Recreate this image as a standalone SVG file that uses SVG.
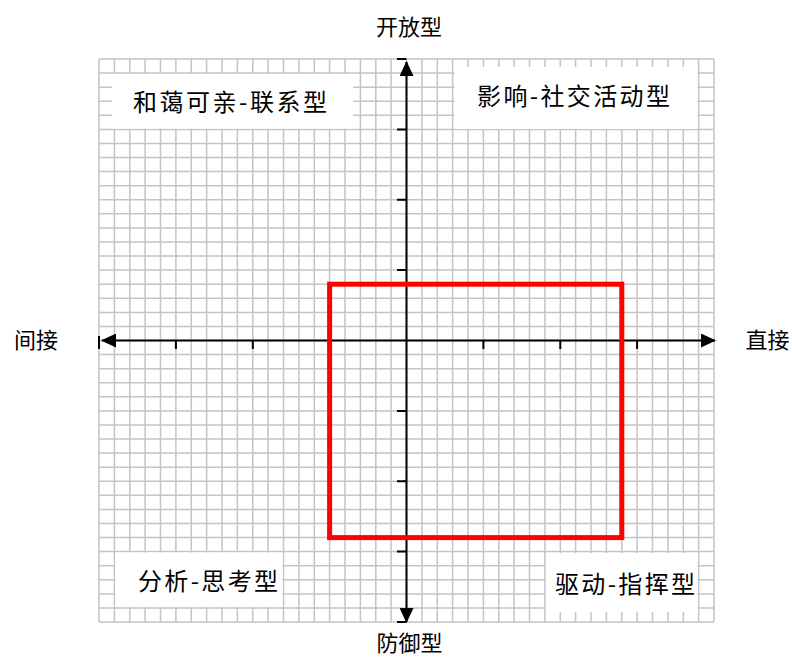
<svg xmlns="http://www.w3.org/2000/svg" width="792" height="664" viewBox="0 0 792 664">
<defs>
<style>
.grid{stroke:#c4c4c4;stroke-width:1.5;fill:none}
.axis{stroke:#000;stroke-width:2;fill:none}
.tick{stroke:#000;stroke-width:2;fill:none}
.box{fill:#fff;stroke:none}
.lbl{font-family:"Noto Sans CJK SC","Noto Sans",sans-serif;font-size:24px;fill:#000;text-anchor:middle}
.ax{font-family:"Noto Sans CJK SC","Noto Sans",sans-serif;font-size:22px;fill:#000;text-anchor:middle}
</style>
<marker id="arr" viewBox="0 0 15 14" refX="14" refY="7" markerWidth="15" markerHeight="14" markerUnits="userSpaceOnUse" orient="auto-start-reverse">
<path d="M0,0 L15,7 L0,14 Z" fill="#000"/>
</marker>
</defs>
<rect width="792" height="664" fill="#fff"/>
<g id="grid">
<path class="grid" d="M99,59V622M114.4,59V622M129.8,59V622M145.1,59V622M160.5,59V622M175.9,59V622M191.3,59V622M206.6,59V622M222,59V622M237.4,59V622M252.8,59V622M268.1,59V622M283.5,59V622M298.9,59V622M314.3,59V622M329.6,59V622M345,59V622M360.4,59V622M375.8,59V622M391.1,59V622M406.5,59V622M421.9,59V622M437.3,59V622M452.6,59V622M468,59V622M483.4,59V622M498.8,59V622M514.1,59V622M529.5,59V622M544.9,59V622M560.3,59V622M575.6,59V622M591,59V622M606.4,59V622M621.8,59V622M637.1,59V622M652.5,59V622M667.9,59V622M683.3,59V622M698.6,59V622M714,59V622
M99,59H714M99,73.1H714M99,87.2H714M99,101.2H714M99,115.3H714M99,129.4H714M99,143.5H714M99,157.5H714M99,171.6H714M99,185.7H714M99,199.8H714M99,213.8H714M99,227.9H714M99,242H714M99,256.1H714M99,270.1H714M99,284.2H714M99,298.3H714M99,312.4H714M99,326.4H714M99,340.5H714M99,354.6H714M99,368.7H714M99,382.7H714M99,396.8H714M99,410.9H714M99,425H714M99,439H714M99,453.1H714M99,467.2H714M99,481.3H714M99,495.3H714M99,509.4H714M99,523.5H714M99,537.6H714M99,551.6H714M99,565.7H714M99,579.8H714M99,593.9H714M99,607.9H714M99,622H714"/>
</g>
<g id="quadrant-tl">
<rect class="box" x="112" y="74" width="241" height="54.6"/>
<text class="lbl" x="230" y="111" textLength="194" lengthAdjust="spacing">和蔼可亲-联系型</text>
</g>
<g id="quadrant-tr">
<rect class="box" x="454.5" y="67" width="243" height="62"/>
<text class="lbl" x="573.5" y="105" textLength="193" lengthAdjust="spacing">影响-社交活动型</text>
</g>
<g id="quadrant-bl">
<rect class="box" x="115.4" y="552.6" width="167.1" height="54.4"/>
<text class="lbl" x="208" y="590" textLength="140" lengthAdjust="spacing">分析-思考型</text>
</g>
<g id="quadrant-br">
<rect class="box" x="546" y="553" width="151.6" height="59"/>
<text class="lbl" x="625" y="593" textLength="140" lengthAdjust="spacing">驱动-指挥型</text>
</g>
<g id="connectors">
<path class="axis" d="M406.5,340.5V62" marker-end="url(#arr)"/>
<path class="axis" d="M406.5,340.5V622" marker-end="url(#arr)"/>
<path class="axis" d="M406.5,340.5H102" marker-end="url(#arr)"/>
<path class="axis" d="M406.5,340.5H715" marker-end="url(#arr)"/>
<path class="tick" d="M99,336V349M175.9,340.5V349M252.8,340.5V349M329.6,340.5V349M483.4,340.5V349M560.3,340.5V349M637.1,340.5V349"/>
<path class="tick" d="M397,59H406.5M397,129.4H406.5M397,199.8H406.5M397,270.1H406.5M397,410.9H406.5M397,481.3H406.5M397,551.6H406.5M397,622H406.5"/>
</g>
<g id="focus">
<rect x="329.6" y="284.2" width="292.2" height="253.4" fill="none" stroke="#ff0000" stroke-width="5"/>
</g>
<g id="axis-labels">
<text class="ax" x="409" y="35">开放型</text>
<text class="ax" x="409.5" y="651">防御型</text>
<text class="ax" x="36" y="348">间接</text>
<text class="ax" x="767.5" y="348">直接</text>
</g>
</svg>
